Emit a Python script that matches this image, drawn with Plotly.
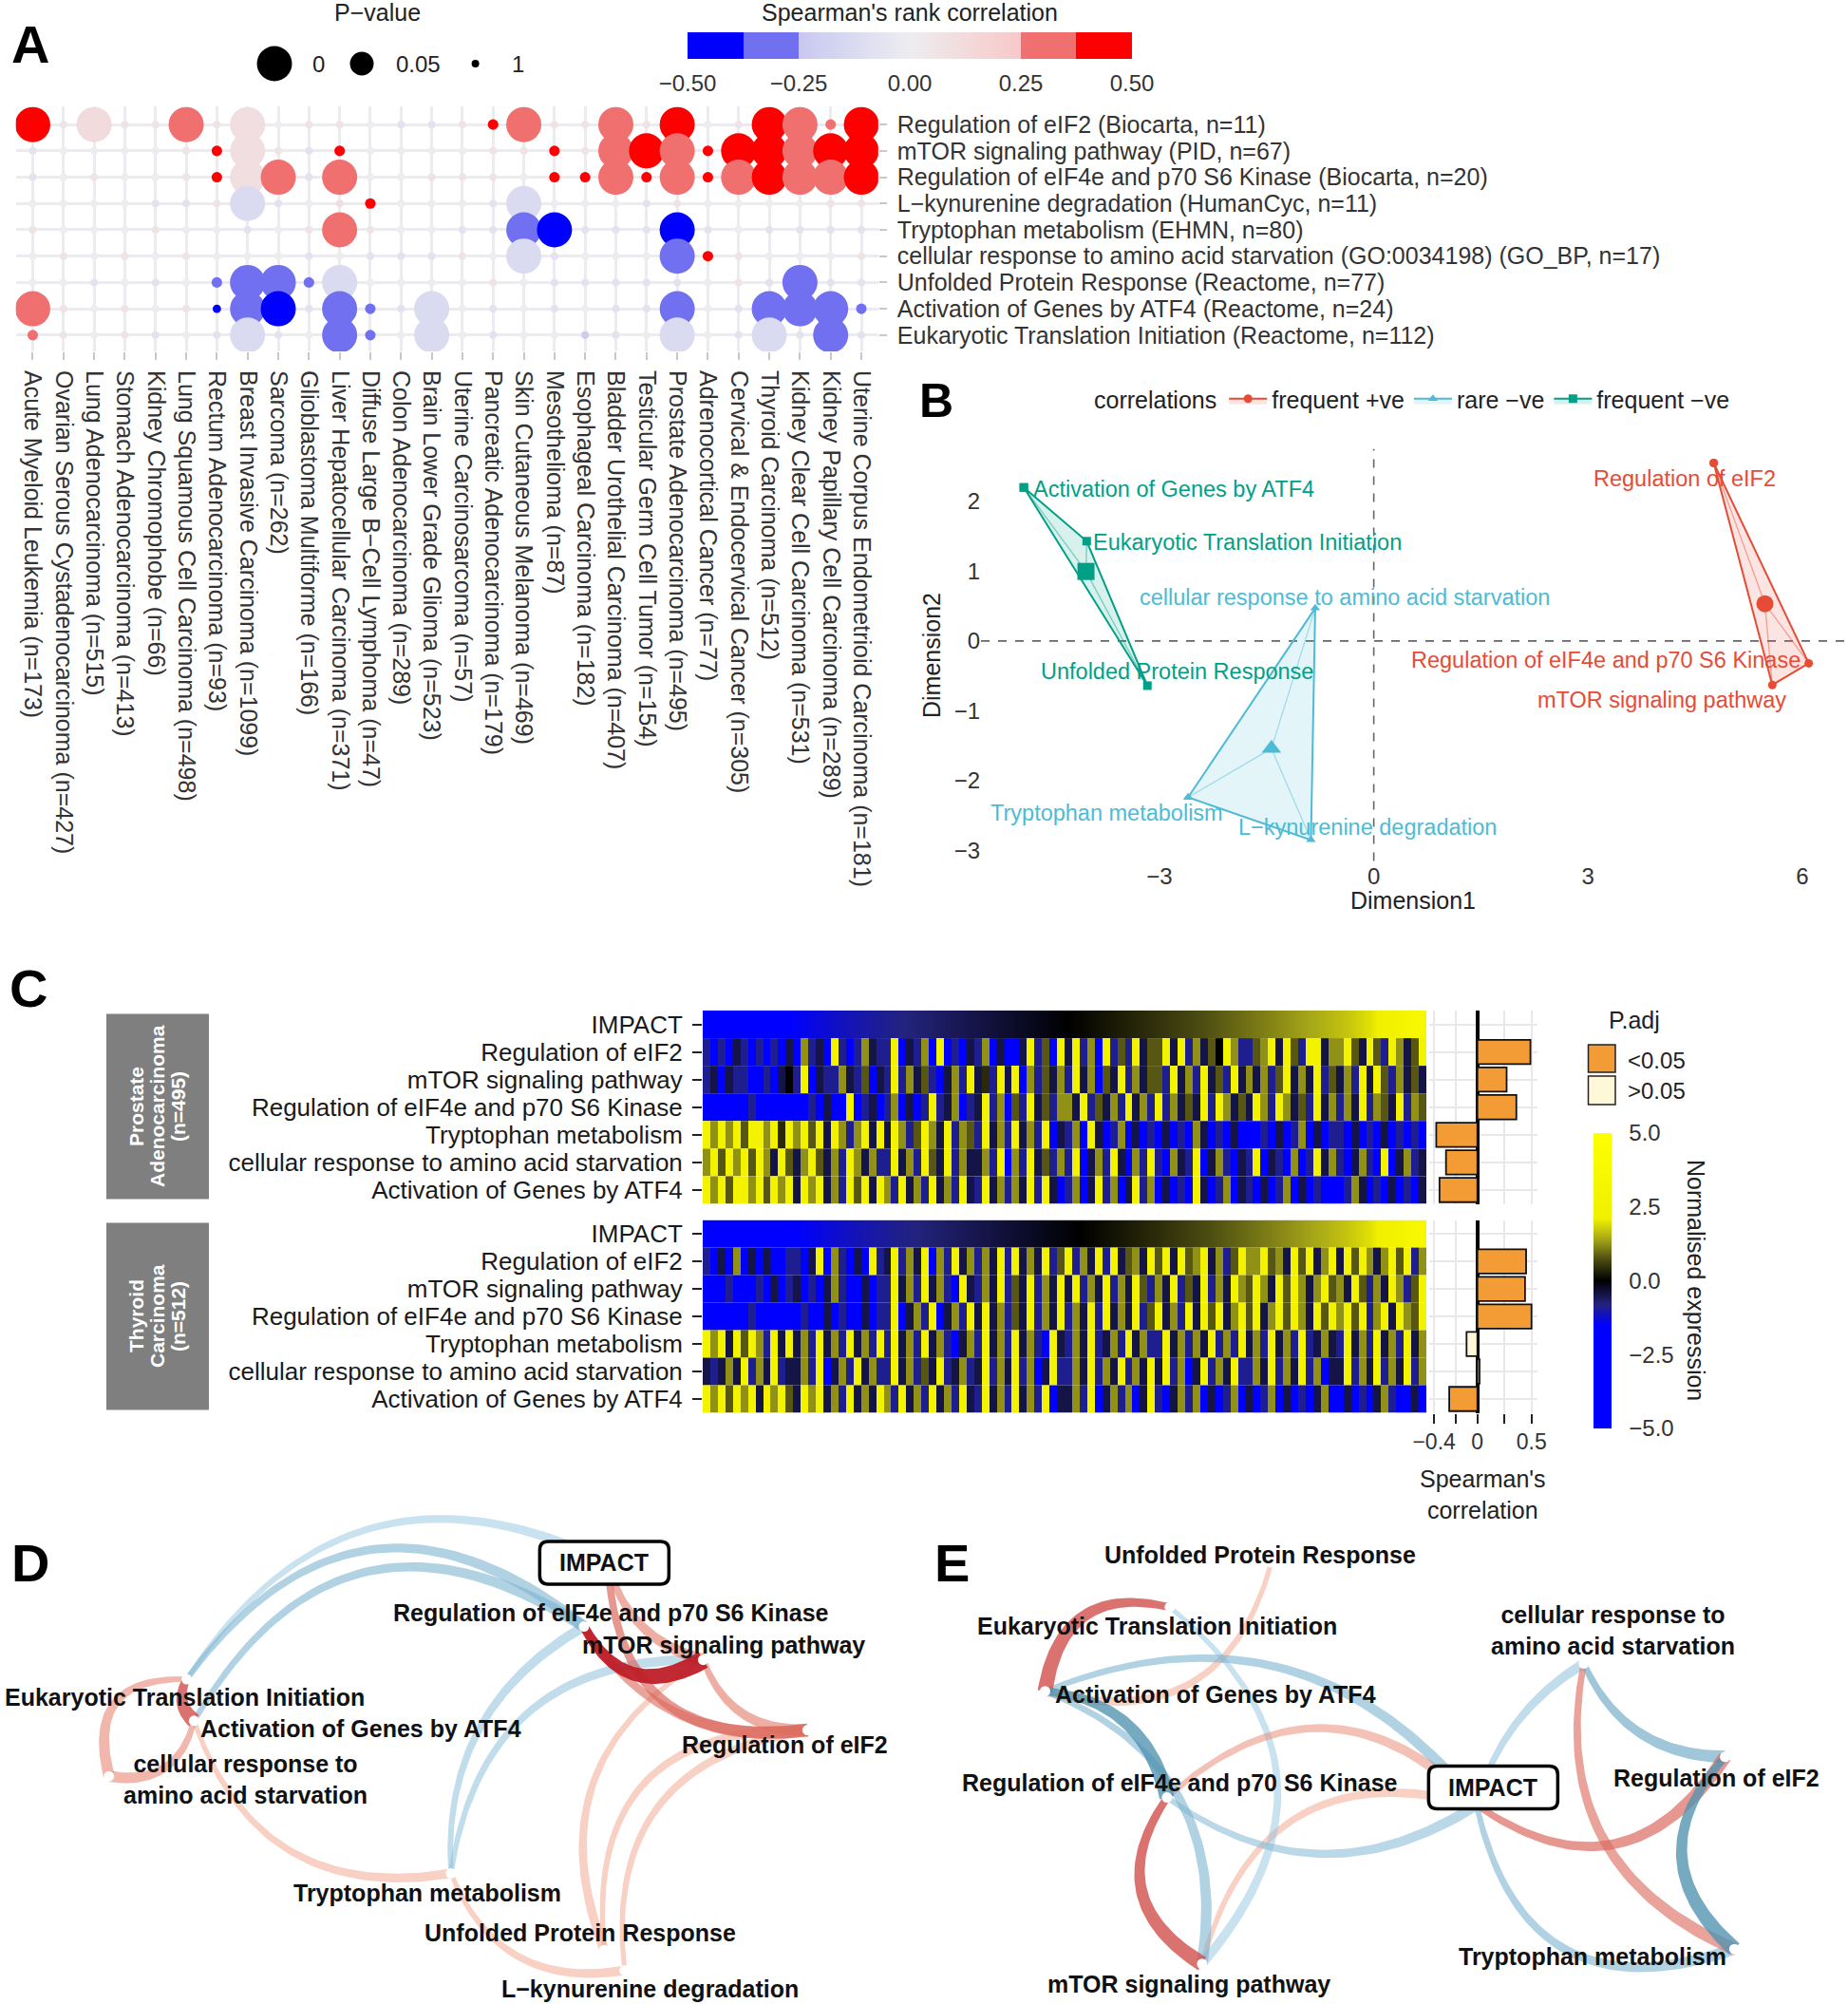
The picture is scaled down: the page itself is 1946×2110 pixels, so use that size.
import numpy as np
import plotly.graph_objects as go

W, H = 1946, 2110
FONT = "Liberation Sans, Arial, Helvetica, sans-serif"

# ============================ DATA ============================
# ---- Panel A: pathway x cancer Spearman correlations ----
CANCERS = ["Acute Myeloid Leukemia (n=173)", "Ovarian Serous Cystadenocarcinoma (n=427)",
           "Lung Adenocarcinoma (n=515)", "Stomach Adenocarcinoma (n=413)", "Kidney Chromophobe (n=66)",
           "Lung Squamous Cell Carcinoma (n=498)", "Rectum Adenocarcinoma (n=93)",
           "Breast Invasive Carcinoma (n=1099)", "Sarcoma (n=262)", "Glioblastoma Multiforme (n=166)",
           "Liver Hepatocellular Carcinoma (n=371)", "Diffuse Large B\u2212Cell Lymphoma (n=47)",
           "Colon Adenocarcinoma (n=289)", "Brain Lower Grade Glioma (n=523)", "Uterine Carcinosarcoma (n=57)",
           "Pancreatic Adenocarcinoma (n=179)", "Skin Cutaneous Melanoma (n=469)", "Mesothelioma (n=87)",
           "Esophageal Carcinoma (n=182)", "Bladder Urothelial Carcinoma (n=407)",
           "Testicular Germ Cell Tumor (n=154)", "Prostate Adenocarcinoma (n=495)",
           "Adrenocortical Cancer (n=77)", "Cervical & Endocervical Cancer (n=305)", "Thyroid Carcinoma (n=512)",
           "Kidney Clear Cell Carcinoma (n=531)", "Kidney Papillary Cell Carcinoma (n=289)",
           "Uterine Corpus Endometrioid Carcinoma (n=181)"]
PATHWAYS_A = ["Regulation of eIF2 (Biocarta, n=11)", "mTOR signaling pathway (PID, n=67)",
              "Regulation of eIF4e and p70 S6 Kinase (Biocarta, n=20)",
              "L\u2212kynurenine degradation (HumanCyc, n=11)", "Tryptophan metabolism (EHMN, n=80)",
              "cellular response to amino acid starvation (GO:0034198) (GO_BP, n=17)",
              "Unfolded Protein Response (Reactome, n=77)", "Activation of Genes by ATF4 (Reactome, n=24)",
              "Eukaryotic Translation Initiation (Reactome, n=112)"]
CORR_A = [
    [0.45, 0.07, 0.12, 0.07, 0.07, 0.30, 0.07, 0.10, 0.00, 0.07, 0.07, 0.00, -0.07, -0.07, 0.07, 0.40, 0.30, 0.07, 0.07, 0.30, 0.07, 0.45, 0.00, 0.07, 0.45, 0.30, 0.30, 0.45],
    [-0.07, 0.00, 0.00, 0.00, 0.00, 0.07, 0.40, 0.10, 0.07, -0.07, 0.40, 0.00, 0.00, 0.00, 0.00, 0.07, 0.07, 0.40, 0.07, 0.30, 0.45, 0.30, 0.42, 0.45, 0.45, 0.30, 0.45, 0.45],
    [-0.07, 0.00, 0.07, 0.00, 0.00, 0.07, 0.40, 0.10, 0.30, -0.07, 0.30, 0.00, 0.00, 0.07, 0.07, 0.07, 0.00, 0.40, 0.40, 0.30, 0.40, 0.30, 0.42, 0.30, 0.45, 0.30, 0.30, 0.45],
    [0.00, 0.00, 0.00, 0.00, -0.07, -0.07, 0.07, -0.13, -0.07, 0.00, 0.10, 0.40, 0.00, 0.00, 0.00, -0.07, -0.13, 0.00, 0.00, 0.00, -0.07, 0.07, 0.00, 0.00, 0.00, 0.00, 0.07, 0.07],
    [0.07, 0.00, 0.00, 0.00, 0.07, 0.00, 0.00, -0.07, 0.00, 0.07, 0.30, 0.07, 0.00, 0.00, -0.07, -0.07, -0.30, -0.46, -0.07, -0.07, -0.07, -0.46, -0.07, 0.00, -0.07, -0.07, -0.07, -0.07],
    [0.00, 0.07, 0.00, 0.07, 0.00, 0.07, 0.00, 0.00, 0.00, -0.07, 0.00, -0.07, -0.07, -0.07, 0.07, 0.00, -0.13, -0.07, 0.00, 0.00, 0.00, -0.30, 0.40, 0.07, 0.00, 0.00, 0.00, 0.07],
    [0.00, 0.00, -0.07, 0.00, -0.07, 0.00, -0.30, -0.30, -0.30, -0.30, -0.13, 0.00, 0.00, 0.00, 0.00, 0.07, 0.00, -0.07, -0.07, -0.07, -0.07, -0.07, 0.00, 0.07, -0.07, -0.30, -0.07, -0.07],
    [0.30, 0.07, 0.00, 0.07, 0.00, 0.07, -0.45, -0.30, -0.46, -0.07, -0.30, -0.30, -0.07, -0.13, 0.00, -0.07, 0.00, -0.07, 0.00, -0.07, -0.07, -0.30, 0.00, -0.07, -0.30, -0.30, -0.30, -0.30],
    [0.33, 0.07, 0.00, 0.07, -0.07, 0.00, -0.07, -0.13, -0.07, 0.00, -0.30, -0.30, 0.00, -0.13, 0.00, -0.07, 0.00, 0.00, -0.22, -0.07, 0.00, -0.13, 0.00, -0.07, -0.13, -0.07, -0.30, -0.07],
]
PVAL_A = [
    [0.0, .85, 0.0, .85, .85, 0.0, .85, 0.0, .95, .85, .85, .95, .85, .85, .85, .2, 0.0, .85, .85, 0.0, .85, 0.0, .95, .85, 0.0, 0.0, .2, 0.0],
    [.85, .95, .95, .95, .95, .85, .2, 0.0, .85, .85, .2, .95, .95, .95, .95, .85, .85, .2, .85, 0.0, 0.0, 0.0, .2, 0.0, 0.0, 0.0, 0.0, 0.0],
    [.85, .95, .85, .95, .95, .85, .2, 0.0, 0.0, .85, 0.0, .95, .95, .85, .85, .85, .95, .2, .2, 0.0, .2, 0.0, .2, 0.0, 0.0, 0.0, 0.0, 0.0],
    [.95, .95, .95, .95, .85, .85, .85, 0.0, .85, .95, .5, .2, .95, .95, .95, .85, 0.0, .95, .95, .95, .85, .85, .95, .95, .95, .95, .85, .85],
    [.85, .95, .95, .95, .85, .95, .95, .85, .95, .85, 0.0, .85, .95, .95, .85, .85, 0.0, 0.0, .85, .85, .85, 0.0, .85, .95, .85, .85, .85, .85],
    [.95, .85, .95, .85, .95, .85, .95, .95, .95, .85, .95, .85, .85, .85, .85, .95, 0.0, .85, .95, .95, .95, 0.0, .2, .85, .95, .95, .95, .85],
    [.95, .95, .85, .95, .85, .95, .2, 0.0, 0.0, .2, 0.0, .95, .95, .95, .95, .85, .95, .85, .85, .85, .85, .85, .95, .85, .85, 0.0, .85, .85],
    [0.0, .85, .95, .85, .95, .85, .3, 0.0, 0.0, .85, 0.0, .2, .85, 0.0, .95, .85, .95, .85, .95, .85, .85, 0.0, .95, .85, 0.0, 0.0, 0.0, .2],
    [.2, .85, .95, .85, .85, .95, .85, 0.0, .85, .95, 0.0, .2, .95, 0.0, .95, .85, .95, .95, .6, .85, .95, 0.0, .95, .85, 0.0, .85, 0.0, .85],
]

# ---- Panel B: MDS of pathways ----
B_PATHWAYS = ["Activation of Genes by ATF4", "Eukaryotic Translation Initiation", "Unfolded Protein Response",
              "cellular response to amino acid starvation", "Tryptophan metabolism", "L\u2212kynurenine degradation",
              "Regulation of eIF2", "Regulation of eIF4e and p70 S6 Kinase", "mTOR signaling pathway"]
B_DIM1 = [-4.90, -4.02, -3.17, -0.82, -2.60, -0.88, 4.76, 6.09, 5.58]
B_DIM2 = [2.20, 1.43, -0.64, 0.47, -2.24, -2.85, 2.55, -0.32, -0.63]
B_GROUP = ["frequent \u2212ve"] * 3 + ["rare \u2212ve"] * 3 + ["frequent +ve"] * 3
B_GROUPS = ["frequent +ve", "rare \u2212ve", "frequent \u2212ve"]

# ---- Panel C: heatmaps + bar plots ----
C_ROWS = ["IMPACT", "Regulation of eIF2", "mTOR signaling pathway", "Regulation of eIF4e and p70 S6 Kinase",
          "Tryptophan metabolism", "cellular response to amino acid starvation", "Activation of Genes by ATF4"]
C_CANCERS = [["Prostate", "Adenocarcinoma", "(n=495)"], ["Thyroid", "Carcinoma", "(n=512)"]]
IMPACT_PROSTATE = [-3.5, -2.4, -1.8, -1.55, -1.4, -1.25, -1.1, -0.97, -0.85, -0.74, -0.63, -0.52, -0.41, -0.3,
                   -0.19, -0.08, 0.04, 0.16, 0.28, 0.4, 0.52, 0.65, 0.78, 0.92, 1.06, 1.2, 1.36, 1.52, 1.7, 1.95,
                   2.4, 3.5]
IMPACT_THYROID = [-3.5, -2.6, -1.9, -1.6, -1.45, -1.3, -1.15, -1.02, -0.9, -0.79, -0.68, -0.57, -0.46, -0.35,
                  -0.24, -0.12, -0.02, 0.1, 0.22, 0.34, 0.47, 0.6, 0.74, 0.88, 1.02, 1.17, 1.33, 1.5, 1.7, 1.95,
                  2.4, 3.5]
# expression level codes (0..8) read column-block by column-block from the stripes
EXPR_LEVELS = [-2.6, -1.5, -0.9, -0.45, 0.0, 0.4, 0.8, 1.25, 2.6]
PROSTATE_ROWS = [
    "212032120213172318212732281327180213271300382618382718262836683827364872267838628837786386287368",
    "231322102134280322732613282736213728352838172637283716382736628372836283737268373826372838627363",
    "001001200101012030180231271302823712382716283627738263728372827363828736387287362837273827638276",
    "878786887858786838727838387268738276283728372813271830271302130217302130102130271302213021302121",
    "786878687386378637287372283728638273372817283627281372831728217328137213281320712837213720813723",
    "878688786878387837286838728372837283283727382831271382713827130218312703213027130210127302130213",
]
THYROID_ROWS = [
    "203171303012213817203182382738172837273828373826827382836738683867837268778673868378386873786827",
    "100201021302312037210312283728372183273826382738382738273862738263827387687386873786738627387268",
    "000100201010120130210312281372813728383726382738273828373826837283868378683786873868786827838768",
    "878386872838372837283728283728372137283728372183273823728372283727382728372837282373283728372837",
    "323738273823372813728372283726382372382738271382273827382738382713827382273827382713382738273827",
    "878687838786387837283738728372837283283728372813372813727138213727130271302713021371130213720130",
]
RHO_PROSTATE = [0.49, 0.27, 0.36, -0.38, -0.29, -0.35]
PADJ_PROSTATE = [1e-10, 1e-4, 1e-6, 1e-8, 1e-4, 1e-6]
RHO_THYROID = [0.45, 0.44, 0.50, -0.10, 0.02, -0.26]
PADJ_THYROID = [1e-10, 1e-10, 1e-12, 0.12, 0.70, 1e-5]

# ---- Panels D/E: correlation networks ----
NET_LABELS = {"IMPACT": "IMPACT", "eIF4e": "Regulation of eIF4e and p70 S6 Kinase",
              "mTOR": "mTOR signaling pathway", "eIF2": "Regulation of eIF2",
              "EIF": "Eukaryotic Translation Initiation", "ATF4": "Activation of Genes by ATF4",
              "AAS": "cellular response to<br>amino acid starvation", "TRP": "Tryptophan metabolism",
              "UPR": "Unfolded Protein Response", "KYN": "L\u2212kynurenine degradation"}
D_NODE_KEYS = ["IMPACT", "eIF4e", "mTOR", "eIF2", "EIF", "ATF4", "AAS", "TRP", "UPR", "KYN"]
D_NODE_X = [65.8, 63.2, 76.1, 87.4, 20.2, 21.0, 11.8, 48.8, 65.4, 67.6]
D_NODE_Y = [5.65, 12.6, 16.2, 23.8, 18.3, 22.8, 28.8, 39.3, 47.6, 49.8]
D_EDGES = [("eIF4e", "mTOR", 0.85), ("IMPACT", "eIF2", 0.45), ("eIF4e", "eIF2", 0.40), ("mTOR", "eIF2", 0.35),
           ("IMPACT", "mTOR", 0.35), ("EIF", "ATF4", 0.60), ("EIF", "AAS", 0.30), ("ATF4", "AAS", 0.30),
           ("ATF4", "TRP", 0.15), ("TRP", "KYN", 0.15), ("UPR", "eIF2", 0.15), ("KYN", "eIF2", 0.15),
           ("mTOR", "UPR", 0.15), ("EIF", "IMPACT", -0.15), ("EIF", "eIF4e", -0.30), ("ATF4", "eIF4e", -0.30),
           ("TRP", "eIF4e", -0.20), ("TRP", "mTOR", -0.20)]
E_NODE_KEYS = ["IMPACT", "eIF4e", "mTOR", "eIF2", "EIF", "ATF4", "AAS", "TRP", "UPR"]
E_NODE_X = [59.8, 26.3, 30.1, 86.7, 26.6, 13.1, 71.4, 87.7, 37.6]
E_NODE_Y = [31.9, 31.1, 49.1, 26.7, 10.5, 19.6, 16.6, 47.5, 5.65]
E_EDGES = [("EIF", "ATF4", 0.60), ("eIF4e", "mTOR", 0.60), ("IMPACT", "eIF2", 0.45), ("eIF4e", "IMPACT", 0.25),
           ("AAS", "TRP", 0.40), ("UPR", "ATF4", 0.15), ("mTOR", "IMPACT", 0.15), ("ATF4", "eIF4e", -0.60),
           ("eIF2", "TRP", -0.60), ("AAS", "eIF2", -0.40), ("IMPACT", "TRP", -0.30), ("ATF4", "IMPACT", -0.30),
           ("IMPACT", "AAS", -0.20), ("eIF4e", "IMPACT", -0.25), ("ATF4", "mTOR", -0.30), ("EIF", "mTOR", -0.15)]

# ============================ STYLE / LAYOUT HELPERS ============================
D_BEND = [0.26, 0.27, 0.16, 0.18, 0.15, 0.2, 0.33, -0.23, 0.21, 0.2, -0.28, -0.24, 0.21, -0.22, -0.26, -0.26,
          -0.155, -0.22]
E_BEND = [0.27, 0.26, 0.255, -0.236, 0.2, -0.25, -0.25, -0.18, 0.25, 0.16, 0.28, -0.185, -0.1, 0.17, -0.2,
          -0.255]
D_LABEL_POS = {"IMPACT": (65.4, 5.7), "eIF4e": (66.1, 11.1), "mTOR": (78.3, 14.6), "eIF2": (84.9, 25.4),
               "EIF": (20.0, 20.2), "ATF4": (39.1, 23.6), "AAS": (26.6, 29.1), "TRP": (46.2, 41.4),
               "UPR": (62.8, 45.7), "KYN": (70.4, 51.8)}
E_LABEL_POS = {"IMPACT": (61.6, 30.0), "eIF4e": (27.7, 29.5), "mTOR": (28.7, 51.3), "eIF2": (85.8, 29.0),
               "EIF": (25.2, 12.5), "ATF4": (31.6, 19.9), "AAS": (74.6, 13.0), "TRP": (72.4, 48.3),
               "UPR": (36.4, 4.8)}
B_LABEL_POS = [(-4.80, 2.18, "left"), (-3.96, 1.42, "left"), (-2.76, -0.44, "center"), (-0.41, 0.62, "center"),
               (-3.74, -2.46, "center"), (-0.09, -2.67, "center"), (4.35, 2.33, "center"),
               (3.25, -0.28, "center"), (4.03, -0.85, "center")]
B_COL = {"frequent +ve": "#E64B35", "rare \u2212ve": "#4DBBD5", "frequent \u2212ve": "#00A087"}
B_SYM = {"frequent +ve": "circle", "rare \u2212ve": "triangle-up", "frequent \u2212ve": "square"}
PXU = 9.73  # pixels per network layout unit


def xdom(a, b):
    return [a / W, b / W]


def ydom(top, bot):
    return [1 - bot / H, 1 - top / H]


def rgba(hexcol, a):
    h = hexcol.lstrip("#")
    return "rgba(%d,%d,%d,%.3f)" % (int(h[0:2], 16), int(h[2:4], 16), int(h[4:6], 16), a)


def convex_hull(pts):
    pts = sorted(set(pts))
    if len(pts) < 3:
        return pts

    def cross(o, a, b):
        return (a[0] - o[0]) * (b[1] - o[1]) - (a[1] - o[1]) * (b[0] - o[0])
    lower, upper = [], []
    for p in pts:
        while len(lower) >= 2 and cross(lower[-2], lower[-1], p) <= 0:
            lower.pop()
        lower.append(p)
    for p in reversed(pts):
        while len(upper) >= 2 and cross(upper[-2], upper[-1], p) <= 0:
            upper.pop()
        upper.append(p)
    return lower[:-1] + upper[:-1]


def edge_rgba(c):
    t = min(max((abs(c) - 0.1) / 0.75, 0.0), 1.0)
    lo, hi = ((246, 170, 140), (190, 30, 40)) if c > 0 else ((150, 200, 228), (45, 120, 150))
    r, g, b = [lo[k] + (hi[k] - lo[k]) * t for k in range(3)]
    return "rgba(%d,%d,%d,%.3f)" % (r, g, b, 0.45 + 0.5 * t)


def tapered_arc(p0, p1, bend, w0, w1, n=48):
    p0 = np.asarray(p0, float)
    p1 = np.asarray(p1, float)
    d = p1 - p0
    L = np.hypot(d[0], d[1])
    nrm = np.array([-d[1], d[0]]) / L
    c = (p0 + p1) / 2 + 2 * bend * L * nrm
    t = np.linspace(0, 1, n)[:, None]
    B = (1 - t) ** 2 * p0 + 2 * (1 - t) * t * c + t ** 2 * p1
    dB = 2 * (1 - t) * (c - p0) + 2 * t * (p1 - c)
    nn = np.stack([-dB[:, 1], dB[:, 0]], 1)
    nn /= np.linalg.norm(nn, axis=1)[:, None]
    hw = (w0 + (w1 - w0) * t[:, 0]) / 2
    left = B + nn * hw[:, None]
    right = B - nn * hw[:, None]
    poly = np.vstack([left, right[::-1], left[:1]])
    return poly[:, 0], poly[:, 1]


def rounded_box(cx, cy, w, h, r):
    x0, x1, y0, y1 = cx - w / 2, cx + w / 2, cy - h / 2, cy + h / 2
    return ("M %f,%f L %f,%f Q %f,%f %f,%f L %f,%f Q %f,%f %f,%f L %f,%f Q %f,%f %f,%f L %f,%f Q %f,%f %f,%f Z"
            % (x0 + r, y0, x1 - r, y0, x1, y0, x1, y0 + r, x1, y1 - r, x1, y1, x1 - r, y1, x0 + r, y1, x0, y1,
               x0, y1 - r, x0, y0 + r, x0, y0, x0 + r, y0))


fig = go.Figure()
annotations = []
shapes = []


def ann(text, x, y, size=25, color="#222", xanchor="center", yanchor="middle", angle=0, xref="paper",
        yref="paper", **kw):
    if xref == "paper":
        x = x / W
    if yref == "paper":
        y = 1 - y / H
    d = dict(text=text, x=x, y=y, xref=xref, yref=yref, showarrow=False, xanchor=xanchor, yanchor=yanchor,
             textangle=angle, font=dict(size=size, color=color, family=FONT))
    d.update(kw)
    annotations.append(d)


# ============================ PANEL A ============================
xs, ys, cs, ss = [], [], [], []
for i, (crow, prow) in enumerate(zip(CORR_A, PVAL_A)):
    for j, (c, p) in enumerate(zip(crow, prow)):
        xs.append(j + 1)
        ys.append(i + 1)
        cs.append(c)
        ss.append(8 + 29 * (1 - p) ** 10)
order = np.argsort(ss, kind="stable")
fig.add_trace(go.Scatter(x=[xs[k] for k in order], y=[ys[k] for k in order], mode="markers",
                         marker=dict(size=[ss[k] for k in order], color=[cs[k] for k in order],
                                     coloraxis="coloraxis2", line=dict(width=0), opacity=1),
                         xaxis="x", yaxis="y", showlegend=False, hoverinfo="skip"))

# size legend (P-value)
for cx, dia in [(289, 37), (381, 25), (500.6, 8)]:
    shapes.append(dict(type="circle", xref="paper", yref="paper", xsizemode="pixel", ysizemode="pixel",
                       xanchor=cx / W, yanchor=1 - 67 / H, x0=-dia / 2, x1=dia / 2, y0=-dia / 2, y1=dia / 2,
                       fillcolor="black", line=dict(width=0)))
ann("P\u2212value", 397, 13, size=25)
ann("0", 335, 67, size=24)
ann("0.05", 440, 67, size=24)
ann("1", 545, 67, size=24)
ann("Spearman's rank correlation", 958, 13, size=25)

# ============================ PANEL B ============================
for g in B_GROUPS:
    idx = [i for i, gg in enumerate(B_GROUP) if gg == g]
    col = B_COL[g]
    mx = float(np.mean([B_DIM1[i] for i in idx]))
    my = float(np.mean([B_DIM2[i] for i in idx]))
    sx, sy = [], []
    for i in idx:
        sx += [mx, B_DIM1[i], None]
        sy += [my, B_DIM2[i], None]
    fig.add_trace(go.Scatter(x=sx, y=sy, mode="lines", line=dict(color=rgba(col, 0.45), width=1.3),
                             xaxis="x2", yaxis="y2", showlegend=False, hoverinfo="skip"))
    hull = convex_hull([(B_DIM1[i], B_DIM2[i]) for i in idx])
    hx = [p[0] for p in hull] + [hull[0][0]]
    hy = [p[1] for p in hull] + [hull[0][1]]
    fig.add_trace(go.Scatter(x=hx, y=hy, mode="lines+markers", fill="toself", fillcolor=rgba(col, 0.15),
                             line=dict(color=col, width=2), marker=dict(symbol=B_SYM[g], size=9, color=col),
                             name=g, xaxis="x2", yaxis="y2", hoverinfo="skip"))
    fig.add_trace(go.Scatter(x=[mx], y=[my], mode="markers", marker=dict(symbol=B_SYM[g], size=18, color=col),
                             xaxis="x2", yaxis="y2", showlegend=False, hoverinfo="skip"))
for i, name in enumerate(B_PATHWAYS):
    lx, ly, anc = B_LABEL_POS[i]
    ann(name, lx, ly, size=23.5, color=B_COL[B_GROUP[i]], xanchor=anc, xref="x2", yref="y2")

shapes.append(dict(type="line", xref="x2", yref="y2 domain", x0=0, x1=0, y0=0, y1=1, layer="below",
                   line=dict(color="#666", width=1.6, dash="dash")))
shapes.append(dict(type="line", xref="x2 domain", yref="y2", x0=0, x1=1, y0=0, y1=0, layer="below",
                   line=dict(color="#666", width=1.6, dash="dash")))
ann("Dimension1", 1488, 948, size=25)
ann("Dimension2", 981, 690, size=25, angle=-90)

# ============================ PANEL C ============================
NCOL = 96


def add_heat(rows, impact, xa, ya):
    n = len(impact)
    fig.add_trace(go.Heatmap(z=[impact], x=[(i + 0.5) * NCOL / n for i in range(n)], y=[0],
                             coloraxis="coloraxis", zsmooth="best", xaxis=xa, yaxis=ya, hoverinfo="skip"))
    for r, s in enumerate(rows, start=1):
        vals = [EXPR_LEVELS[int(ch)] for ch in s]
        m = len(vals)
        fig.add_trace(go.Heatmap(z=[vals], x=[i * NCOL / m for i in range(m + 1)], y=[r - 0.5, r + 0.5],
                                 coloraxis="coloraxis", xaxis=xa, yaxis=ya, hoverinfo="skip"))


def add_bars(rho, padj, xa, ya):
    for sig, color in [(True, "#F39B35"), (False, "#FFF8D8")]:
        idx = [i for i, p in enumerate(padj) if (p < 0.05) == sig]
        fig.add_trace(go.Bar(x=[rho[i] for i in idx], y=[i + 1 for i in idx], orientation="h",
                             marker=dict(color=color, line=dict(color="#111", width=1.8)), width=0.88,
                             xaxis=xa, yaxis=ya, showlegend=False, hoverinfo="skip"))


add_heat(PROSTATE_ROWS, IMPACT_PROSTATE, "x3", "y3")
add_heat(THYROID_ROWS, IMPACT_THYROID, "x4", "y4")
add_bars(RHO_PROSTATE, PADJ_PROSTATE, "x5", "y5")
add_bars(RHO_THYROID, PADJ_THYROID, "x6", "y6")

# strips
for (top, bot), lines in zip([(1067.5, 1262.5), (1287.5, 1484.5)], C_CANCERS):
    shapes.append(dict(type="rect", xref="paper", yref="paper", x0=112 / W, x1=220 / W, y0=1 - bot / H,
                       y1=1 - top / H, fillcolor="#7f7f7f", line=dict(width=0)))
    for k, line in enumerate(lines):
        ann("<b>%s</b>" % line, 143 + 22 * k, (top + bot) / 2, size=21, color="white", angle=-90)

# P.adj legend
ann("P.adj", 1721, 1074, size=25)
shapes.append(dict(type="rect", xref="paper", yref="paper", x0=1672.5 / W, x1=1701 / W, y0=1 - 1129 / H,
                   y1=1 - 1100 / H, fillcolor="#F39B35", line=dict(color="#222", width=1.5)))
shapes.append(dict(type="rect", xref="paper", yref="paper", x0=1672.5 / W, x1=1701 / W, y0=1 - 1163 / H,
                   y1=1 - 1133 / H, fillcolor="#FFF8D8", line=dict(color="#222", width=1.5)))
ann("<0.05", 1712, 1116, size=24, xanchor="left")
ann(">0.05", 1712, 1148, size=24, xanchor="left")
ann("Normalised expression", 1786, 1348, size=25, angle=90)
ann("Spearman's<br>correlation", 1561, 1573, size=25)

# ============================ PANELS D / E ============================


def add_network(keys, nx, ny, edges, bends, labpos, xa, ya):
    pos = {k: (x, y) for k, x, y in zip(keys, nx, ny)}
    order_e = sorted(range(len(edges)), key=lambda k: abs(edges[k][2]))
    for k in order_e:
        s, t, c = edges[k]
        w1 = (8 + 13 * abs(c)) / PXU
        ex, ey = tapered_arc(pos[s], pos[t], bends[k], 0.5 * w1, w1)
        fig.add_trace(go.Scatter(x=ex, y=ey, mode="lines", fill="toself", fillcolor=edge_rgba(c),
                                 line=dict(width=0, color="rgba(0,0,0,0)"), xaxis=xa, yaxis=ya,
                                 showlegend=False, hoverinfo="skip"))
    fig.add_trace(go.Scatter(x=nx, y=ny, mode="markers", marker=dict(size=11, color="white"),
                             xaxis=xa, yaxis=ya, showlegend=False, hoverinfo="skip"))
    for k in keys:
        lx, ly = labpos[k]
        if k == "IMPACT":
            shapes.append(dict(type="path", xref=xa, yref=ya, layer="above",
                               path=rounded_box(lx, ly, 136 / PXU, 45 / PXU, 9 / PXU),
                               fillcolor="white", line=dict(color="black", width=3.5)))
            ann("<b>IMPACT</b>", lx, ly, size=25, color="#111", xref=xa, yref=ya)
        else:
            ann("<b>%s</b>" % NET_LABELS[k], lx, ly, size=25, color="#111", xref=xa, yref=ya)


add_network(D_NODE_KEYS, D_NODE_X, D_NODE_Y, D_EDGES, D_BEND, D_LABEL_POS, "x7", "y7")
add_network(E_NODE_KEYS, E_NODE_X, E_NODE_Y, E_EDGES, E_BEND, E_LABEL_POS, "x8", "y8")

# panel letters
for letter, x, y, s in [("A", 32, 47, 56), ("B", 986, 422, 50), ("C", 30, 1040, 56), ("D", 32, 1645, 56),
                        ("E", 1002, 1645, 56)]:
    ann("<b>%s</b>" % letter, x, y, size=s, color="black")

# ============================ LAYOUT ============================
hidden = dict(visible=False, showgrid=False, zeroline=False, automargin=False)
A_AX = dict(showgrid=True, gridcolor="#ebebf0", gridwidth=3, zeroline=False, showline=False, ticks="outside",
            ticklen=8, tickwidth=1.5, tickcolor="#c8c8c8", automargin=False)
BAR_X = dict(range=[-0.445, 0.555], tickmode="array", tickvals=[-0.4, -0.2, 0, 0.25, 0.5], showgrid=True,
             gridcolor="#e8e8e8", gridwidth=2, zeroline=True, zerolinecolor="#000", zerolinewidth=3.5,
             showline=False, automargin=False)
BAR_Y = dict(range=[6.5, -0.5], tickmode="array", tickvals=list(range(7)), showticklabels=False, showgrid=True,
             gridcolor="#e8e8e8", gridwidth=2, zeroline=False, ticks="", automargin=False)
HEAT_Y = dict(range=[6.5, -0.5], tickmode="array", tickvals=list(range(7)), ticktext=C_ROWS, ticks="outside",
              ticklen=10, tickwidth=2, tickcolor="#222", tickfont=dict(size=26, color="#1a1a1a"),
              showgrid=False, zeroline=False, ticklabelstandoff=5, automargin=False)
B_AX = dict(showgrid=False, zeroline=False, showline=False, ticks="", tickfont=dict(size=24, color="#333"),
            automargin=False)

A_SCALE = [[0.0, "#0000ff"], [0.125, "#0000ff"], [0.125, "#7070f0"], [0.25, "#7070f0"], [0.25, "#c8c8f0"],
           [0.5, "#ededf0"], [0.75, "#f8c8c8"], [0.75, "#f07070"], [0.875, "#f07070"], [0.875, "#ff0000"],
           [1.0, "#ff0000"]]
HEAT_SCALE = [[0.0, "#0000ff"], [0.35, "#0000ff"], [0.42, "#23237d"], [0.5, "#000000"], [0.57, "#4a4a12"],
              [0.64, "#a5a519"], [0.71, "#f0f000"], [1.0, "#ffff00"]]

fig.update_layout(
    width=W, height=H, margin=dict(l=0, r=0, t=0, b=0, pad=0, autoexpand=False), paper_bgcolor="white",
    plot_bgcolor="white", font=dict(family=FONT, size=25, color="#222"), barmode="overlay",
    xaxis=dict(domain=xdom(16.7, 924.8), range=[0.45, 28.55], anchor="y", tickmode="array",
               tickvals=list(range(1, 29)), ticktext=CANCERS, tickangle=90, tickfont=dict(size=25, color="#333"),
               ticklabelstandoff=6, **A_AX),
    yaxis=dict(domain=ydom(112.3, 370), range=[9.62, 0.32], anchor="x", side="right", tickmode="array",
               tickvals=list(range(1, 10)), ticktext=PATHWAYS_A, tickfont=dict(size=25, color="#333"),
               ticklabelstandoff=6, **A_AX),
    xaxis2=dict(domain=xdom(1033, 1943), range=[-5.5, 6.6], anchor="y2", tickmode="array", tickvals=[-3, 0, 3, 6],
                **B_AX),
    yaxis2=dict(domain=ydom(472.8, 906.4), range=[-3.15, 2.75], anchor="x2", tickmode="array",
                tickvals=[-3, -2, -1, 0, 1, 2], **B_AX),
    xaxis3=dict(domain=xdom(740, 1502), range=[0, NCOL], anchor="y3", **hidden),
    yaxis3=dict(domain=ydom(1064, 1267.5), anchor="x3", **HEAT_Y),
    xaxis4=dict(domain=xdom(740, 1502), range=[0, NCOL], anchor="y4", **hidden),
    yaxis4=dict(domain=ydom(1284.6, 1487.5), anchor="x4", **HEAT_Y),
    xaxis5=dict(domain=xdom(1505, 1619), anchor="y5", showticklabels=False, ticks="", **BAR_X),
    yaxis5=dict(domain=ydom(1064, 1267.5), anchor="x5", **BAR_Y),
    xaxis6=dict(domain=xdom(1505, 1619), anchor="y6", ticktext=["\u22120.4", "", "0", "", "0.5"],
                ticks="outside", ticklen=10, tickwidth=2, tickcolor="#222", tickfont=dict(size=23, color="#333"),
                **BAR_X),
    yaxis6=dict(domain=ydom(1284.6, 1487.5), anchor="x6", **BAR_Y),
    xaxis7=dict(domain=xdom(0, 973), range=[0, 100], anchor="y7", **hidden),
    yaxis7=dict(domain=ydom(1590, 2110), range=[520 / PXU, 0], anchor="x7", **hidden),
    xaxis8=dict(domain=xdom(973, 1946), range=[0, 100], anchor="y8", **hidden),
    yaxis8=dict(domain=ydom(1590, 2110), range=[520 / PXU, 0], anchor="x8", **hidden),
    coloraxis=dict(colorscale=HEAT_SCALE, cmin=-5, cmax=5,
                   colorbar=dict(x=1677.5 / W, xanchor="left", y=1 - 1348.5 / H, yanchor="middle", len=311,
                                 lenmode="pixels", thickness=19, xpad=0, ypad=0, outlinewidth=0,
                                 tickmode="array", tickvals=[-5, -2.5, 0, 2.5, 5],
                                 ticktext=["\u22125.0", "\u22122.5", "0.0", "2.5", "5.0"], ticks="outside",
                                 ticklen=14, tickcolor="rgba(0,0,0,0)", tickfont=dict(size=24, color="#333"))),
    coloraxis2=dict(colorscale=A_SCALE, cmin=-0.5, cmax=0.5,
                    colorbar=dict(orientation="h", x=958 / W, xanchor="center", y=1 - 34 / H, yanchor="top",
                                  len=468, lenmode="pixels", thickness=28, xpad=0, ypad=0, outlinewidth=0,
                                  tickmode="array", tickvals=[-0.5, -0.25, 0, 0.25, 0.5],
                                  ticktext=["\u22120.50", "\u22120.25", "0.00", "0.25", "0.50"], ticks="outside",
                                  ticklen=6, tickcolor="rgba(0,0,0,0)", tickfont=dict(size=24, color="#333"))),
    legend=dict(title=dict(text="correlations", font=dict(size=25, color="#222")), orientation="h",
                x=1150 / W, xanchor="left", y=1 - 420 / H, yanchor="middle", font=dict(size=25, color="#222"),
                bgcolor="rgba(0,0,0,0)", itemwidth=40),
    annotations=annotations, shapes=shapes,
)

# remove the browser's default 8px body margin so the figure sits at the page origin
fig.write_html("out.html", config={"displayModeBar": False},
               post_script="document.body.style.margin='0px';")
